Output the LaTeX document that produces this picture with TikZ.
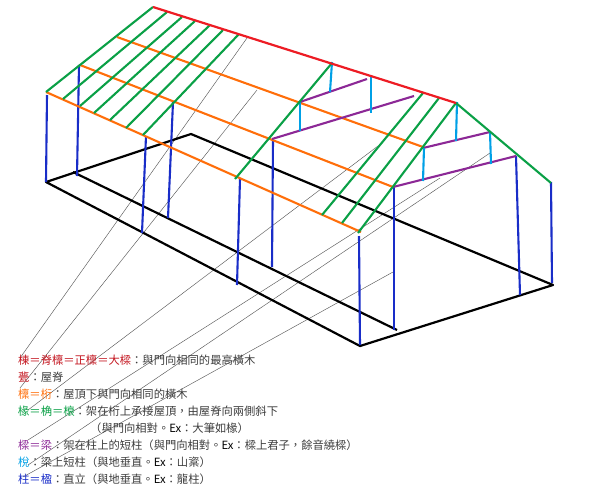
\documentclass[tikz,border=0pt]{standalone}
\usepackage{fontspec}
\usepackage{xcolor}
\setmainfont{Noto Sans CJK TC}
\definecolor{ridgered}{RGB}{237,28,36}
\definecolor{purlinorange}{RGB}{255,110,10}
\definecolor{raftergreen}{RGB}{10,160,70}
\definecolor{beampurple}{RGB}{140,40,150}
\definecolor{strutcyan}{RGB}{0,160,230}
\definecolor{postblue}{RGB}{25,45,200}
\definecolor{legendred}{RGB}{195,20,30}
\definecolor{legendgrey}{RGB}{60,60,60}
\newcommand{\exmark}{\textcolor{black}{Ex}}
\tikzset{
    ridge/.style={line width=2.2pt, ridgered},
    purlin/.style={line width=2.1pt, purlinorange},
    rafter/.style={line width=2.1pt, raftergreen},
    beam/.style={line width=2.1pt, beampurple},
    strut/.style={line width=2.1pt, strutcyan},
    post/.style={line width=2.1pt, postblue},
    ground/.style={line width=2.2pt, black},
    leader/.style={line width=0.45pt, black!65},
    legend/.style={anchor=west, inner sep=0pt, font=\fontsize{11.3}{13}\selectfont, text=legendgrey}
}
\begin{document}
\begin{tikzpicture}[x=1pt, y=-1pt]
    \useasboundingbox (0,0) rectangle (600,496);

    % Leader lines
    \draw[leader] (247,38) -- (20,358);
    \draw[leader] (257,90) -- (20,388);
    \draw[leader] (378,146) -- (28,410);
    \draw[leader] (440,178) -- (28,440);
    \draw[leader] (490,153) -- (28,465);
    \draw[leader] (393,272) -- (23,477);

    % Ground plan
    \draw[ground, line join=round] (46,182) -- (191,134) -- (553,285) -- (360,346) -- cycle;
    \draw[ground] (73,172) -- (397,330);

    % Posts
    \draw[post] (47,95) -- (46,182);
    \draw[post] (79,65) -- (77,176);
    \draw[post] (146,136) -- (142,233);
    \draw[post] (173,102) -- (168,218);
    \draw[post] (240,179) -- (237,285);
    \draw[post] (273,140) -- (272,267);
    \draw[post] (359,236) -- (360,345);
    \draw[post] (394,187) -- (394,330);
    \draw[post] (516,156) -- (520,295);
    \draw[post] (551,182) -- (552,283);

    % Purlins
    \draw[purlin] (117,37) -- (423,147);
    \draw[purlin] (80,65) -- (393,187);
    \draw[purlin] (46,92) -- (361,232);

    % Beams
    \draw[beam] (300,102) -- (367,79);
    \draw[beam] (272,139) -- (414,96);
    \draw[beam] (423,148) -- (490,132);
    \draw[beam] (393,187) -- (516,156);

    % Struts
    \draw[strut] (332,62) -- (330,92);
    \draw[strut] (371,77) -- (371,113);
    \draw[strut] (300,102) -- (300,131);
    \draw[strut] (457,102) -- (456,141);
    \draw[strut] (490,132) -- (491,164);
    \draw[strut] (424,148) -- (423,181);

    % Rafters
    \foreach \xa/\ya/\xb/\yb in {153/7/46/92, 167/12/63/99, 182/17/80/106, 195/21/94/113,
        210/25/110/120, 223/30/126/128, 239/34/143/135, 332/63/235/179,
        423/93/322/215, 439/98/342/223, 456/103/358/233}
        \draw[rafter] (\xa,\ya) -- (\xb,\yb);
    \draw[rafter] (456,103) -- (551,183);

    % Ridge
    \draw[ridge] (153,7) -- (456,103);

    % Legend
    \node[legend] (ridgetext) at (18,360) {\textcolor{legendred}{棟＝脊檁＝正檁＝大樑}：與門向相同的最高橫木};
    \node[legend] (megtext) at (18,377) {\textcolor{legendred}{甍}：屋脊};
    \node[legend] (purlintext) at (18,394) {\textcolor{purlinorange}{檁＝桁}：屋頂下與門向相同的橫木};
    \node[legend] (raftertext) at (18,411) {\textcolor{raftergreen}{椽＝桷＝榱}：架在桁上承接屋頂，由屋脊向兩側斜下};
    \node[legend] (raftertextb) at (90,428) {（與門向相對。\exmark：大筆如椽）};
    \node[legend] (beamtext) at (18,445) {\textcolor{beampurple}{樑＝梁}：架在柱上的短柱（與門向相對。\exmark：樑上君子，餘音繞樑）};
    \node[legend] (struttext) at (18,462) {\textcolor{strutcyan}{梲}：梁上短柱（與地垂直。\exmark：山楶）};
    \node[legend] (posttext) at (18,479) {\textcolor{postblue}{柱＝楹}：直立（與地垂直。\exmark：龍柱）};
\end{tikzpicture}
\end{document}
